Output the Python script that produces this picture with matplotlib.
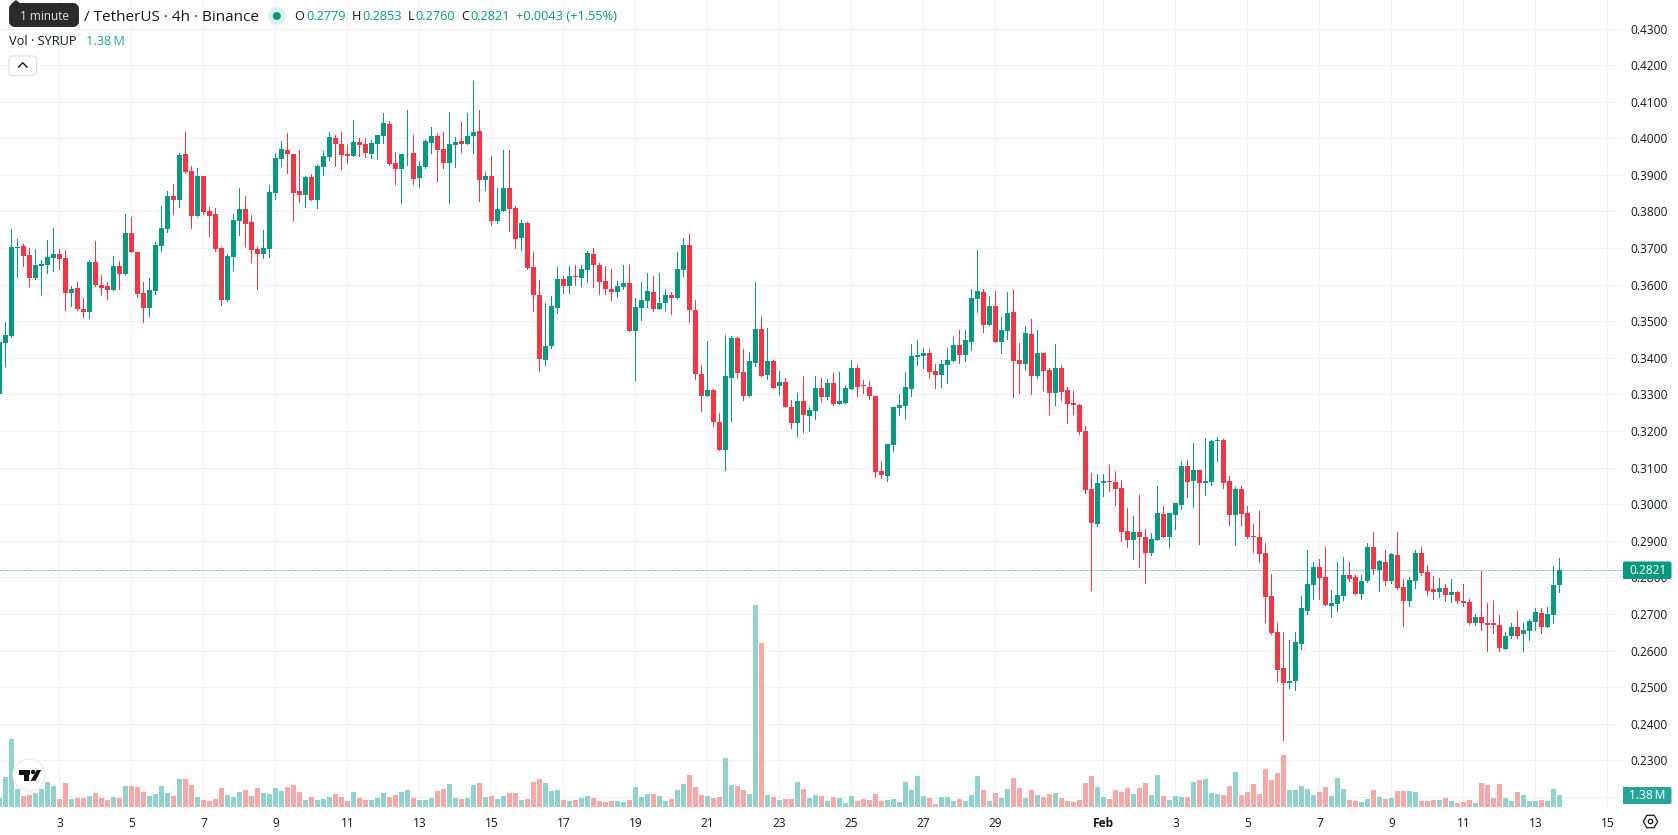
#!/usr/bin/env python3
"""
Draw a 4h candlestick chart of SYRUP/USDT with volume bars and a terminal style header.
"""

import matplotlib

matplotlib.use("Agg")
import matplotlib.pyplot as plt
import numpy as np
from matplotlib.patches import Circle, FancyBboxPatch, Polygon, Rectangle, RegularPolygon

plt.rcParams["font.family"] = ["Open Sans", "DejaVu Sans"]

GREEN = "#089981"
RED = "#F23645"
GREEN_VOL = "#92D2CC"
RED_VOL = "#F7A9A7"
GRID = "#F0F1F4"
INK = "#131722"
VOL_TEAL = "#26A69A"

# candles run from index -10; index 0 is the bar at midnight on the 3rd
first_index = -10

opens = [
    .3301, .3441, .3460, .3701, .3706, .3682, .3619, .3651, .3654, .3674,
    .3685, .3674, .3576, .3590, .3533, .3525, .3662, .3599, .3595, .3584, .3652, .3630,
    .3742, .3690, .3578, .3537, .3583, .3706, .3752, .3842, .3830, .3958, .3910, .3787,
    .3896, .3800, .3792, .3700, .3558, .3675, .3773, .3806, .3771, .3698, .3685, .3698,
    .3851, .3943, .3968, .3958, .3855, .3844, .3894, .3830, .3922, .3949, .4000, .3984,
    .3957, .3952, .3990, .3984, .3957, .3984, .4006, .4039, .3933, .3915, .3959, .3961,
    .3891, .3922, .3987, .4006, .3971, .3933, .3982, .3993, .3984, .4006, .4020, .3886,
    .3896, .3773, .3801, .3865, .3809, .3727, .3768, .3648, .3573, .3395, .3431, .3537,
    .3616, .3596, .3624, .3619, .3641, .3685, .3655, .3610, .3588, .3579, .3593, .3604,
    .3474, .3536, .3555, .3580, .3534, .3549, .3573, .3564, .3641, .3709, .3532, .3357,
    .3295, .3312, .3225, .3149, .3345, .3455, .3362, .3295, .3385, .3479, .3352, .3390,
    .3322, .3333, .3266, .3223, .3282, .3241, .3255, .3317, .3293, .3331, .3274, .3276,
    .3315, .3371, .3326, .3320, .3295, .3090, .3076, .3161, .3262, .3268, .3315, .3401,
    .3406, .3412, .3365, .3354, .3379, .3390, .3434, .3409, .3444, .3560, .3579, .3490,
    .3541, .3444, .3474, .3525, .3393, .3382, .3466, .3349, .3412, .3368, .3304, .3373,
    .3312, .3276, .3271, .3201, .3042, .2946, .3059, .3064, .3061, .3044, .2928, .2901,
    .2924, .2909, .2866, .2901, .2973, .2909, .2971, .2998, .3104, .3063, .3093, .3058,
    .3060, .3172, .3175, .3063, .2971, .3042, .2976, .2914, .2911, .2866, .2750, .2652,
    .2551, .2510, .2516, .2617, .2709, .2779, .2828, .2801, .2722, .2727, .2750, .2806,
    .2801, .2755, .2789, .2883, .2820, .2842, .2790, .2861, .2774, .2736, .2790, .2867,
    .2815, .2767, .2759, .2772, .2751, .2761, .2736, .2733, .2674, .2693, .2676, .2674,
    .2671, .2603, .2641, .2665, .2644, .2654, .2679, .2703, .2665, .2698, .2779,
]
closes = [
    .3443, .3463, .3704, .3704, .3679, .3619, .3654, .3657, .3676, .3685,
    .3671, .3578, .3587, .3533, .3525, .3662, .3598, .3591, .3584, .3652, .3630, .3742,
    .3690, .3575, .3537, .3586, .3709, .3755, .3842, .3831, .3955, .3907, .3787, .3896,
    .3798, .3787, .3698, .3558, .3677, .3776, .3806, .3765, .3695, .3685, .3700, .3853,
    .3947, .3971, .3957, .3851, .3844, .3894, .3831, .3924, .3952, .4003, .3984, .3954,
    .3951, .3990, .3982, .3959, .3987, .4009, .4042, .3930, .3917, .3958, .3961, .3890,
    .3924, .3993, .4006, .3968, .3933, .3984, .3990, .3984, .4006, .4017, .3886, .3896,
    .3773, .3806, .3865, .3806, .3724, .3768, .3645, .3571, .3398, .3433, .3541, .3616,
    .3596, .3624, .3621, .3644, .3687, .3655, .3608, .3588, .3579, .3596, .3604, .3474,
    .3539, .3558, .3582, .3534, .3549, .3573, .3564, .3644, .3709, .3530, .3355, .3295,
    .3312, .3225, .3149, .3350, .3455, .3359, .3295, .3390, .3479, .3349, .3390, .3318,
    .3335, .3266, .3223, .3282, .3245, .3257, .3318, .3293, .3331, .3274, .3282, .3317,
    .3371, .3320, .3323, .3295, .3087, .3079, .3164, .3265, .3271, .3320, .3404, .3409,
    .3412, .3362, .3354, .3382, .3395, .3434, .3409, .3448, .3563, .3582, .3490, .3541,
    .3444, .3476, .3523, .3390, .3382, .3469, .3349, .3412, .3363, .3304, .3373, .3307,
    .3274, .3271, .3198, .3039, .2949, .3059, .3064, .3061, .3042, .2925, .2901, .2924,
    .2909, .2866, .2904, .2975, .2909, .2975, .3004, .3104, .3060, .3093, .3058, .3063,
    .3172, .3175, .3058, .2971, .3042, .2973, .2911, .2909, .2865, .2747, .2649, .2548,
    .2510, .2518, .2623, .2715, .2782, .2828, .2798, .2725, .2730, .2752, .2806, .2795,
    .2755, .2790, .2883, .2823, .2845, .2790, .2864, .2772, .2736, .2793, .2867, .2812,
    .2763, .2759, .2772, .2751, .2761, .2734, .2731, .2676, .2693, .2674, .2671, .2671,
    .2606, .2641, .2665, .2641, .2655, .2682, .2706, .2665, .2701, .2780, .2821,
]
highs = [
    .3443, .3498, .3753, .3725, .3712, .3701, .3698, .3668, .3723, .3755,
    .3698, .3695, .3596, .3607, .3563, .3668, .3720, .3625, .3607, .3679, .3665, .3794,
    .3786, .3690, .3608, .3619, .3717, .3815, .3856, .3875, .3961, .4016, .3923, .3918,
    .3898, .3811, .3809, .3703, .3683, .3793, .3863, .3841, .3790, .3703, .3750, .3871,
    .3960, .3993, .4015, .3958, .3967, .3897, .3903, .3927, .3965, .4017, .4008, .4017,
    .3981, .4050, .4001, .4001, .3995, .4009, .4069, .4047, .3962, .3958, .4076, .4009,
    .3938, .3995, .4031, .4015, .4017, .4072, .4004, .4045, .4069, .4156, .4078, .3908,
    .3951, .3865, .3968, .3968, .3815, .3776, .3772, .3690, .3612, .3550, .3569, .3649,
    .3624, .3652, .3655, .3655, .3693, .3701, .3660, .3652, .3644, .3610, .3655, .3653,
    .3564, .3607, .3632, .3624, .3632, .3589, .3580, .3690, .3728, .3739, .3559, .3379,
    .3445, .3314, .3250, .3463, .3460, .3457, .3423, .3415, .3607, .3512, .3481, .3393,
    .3365, .3344, .3284, .3303, .3349, .3266, .3349, .3345, .3342, .3359, .3362, .3322,
    .3393, .3379, .3340, .3337, .3295, .3117, .3164, .3265, .3301, .3362, .3439, .3450,
    .3428, .3423, .3384, .3393, .3426, .3458, .3475, .3475, .3587, .3695, .3587, .3568,
    .3582, .3511, .3579, .3585, .3441, .3487, .3506, .3476, .3414, .3373, .3439, .3379,
    .3320, .3309, .3274, .3214, .3085, .3082, .3082, .3106, .3090, .3066, .2990, .2968,
    .3025, .2933, .2920, .3049, .2995, .2977, .3004, .3117, .3120, .3166, .3093, .3180,
    .3175, .3183, .3178, .3076, .3047, .3050, .2995, .2947, .2980, .2893, .2809, .2674,
    .2650, .2628, .2650, .2750, .2874, .2842, .2851, .2883, .2765, .2842, .2856, .2842,
    .2806, .2807, .2894, .2924, .2847, .2875, .2867, .2924, .2796, .2801, .2875, .2883,
    .2835, .2805, .2799, .2782, .2796, .2764, .2782, .2741, .2700, .2817, .2731, .2734,
    .2698, .2652, .2676, .2709, .2674, .2687, .2717, .2717, .2720, .2830, .2853,
]
lows = [
    .3300, .3378, .3457, .3622, .3652, .3597, .3616, .3575, .3632, .3638,
    .3644, .3532, .3541, .3530, .3511, .3509, .3596, .3575, .3560, .3584, .3588, .3625,
    .3690, .3567, .3499, .3515, .3575, .3693, .3744, .3793, .3811, .3904, .3755, .3787,
    .3793, .3732, .3693, .3544, .3555, .3640, .3735, .3705, .3663, .3589, .3674, .3676,
    .3835, .3924, .3905, .3776, .3825, .3812, .3831, .3809, .3900, .3941, .3924, .3916,
    .3932, .3952, .3952, .3948, .3946, .3943, .3987, .3927, .3876, .3822, .3926, .3874,
    .3866, .3919, .3960, .3883, .3919, .3822, .3922, .3962, .3984, .3960, .3829, .3858,
    .3762, .3768, .3801, .3746, .3700, .3695, .3642, .3528, .3365, .3380, .3428, .3523,
    .3576, .3576, .3598, .3595, .3608, .3594, .3574, .3574, .3557, .3566, .3587, .3474,
    .3338, .3504, .3539, .3528, .3534, .3532, .3520, .3561, .3624, .3498, .3341, .3255,
    .3295, .3215, .3149, .3093, .3228, .3345, .3285, .3295, .3377, .3349, .3341, .3318,
    .3297, .3266, .3207, .3185, .3198, .3201, .3233, .3279, .3287, .3271, .3274, .3276,
    .3315, .3295, .3304, .3287, .3074, .3071, .3063, .3145, .3243, .3235, .3295, .3379,
    .3373, .3346, .3318, .3321, .3332, .3390, .3387, .3390, .3422, .3525, .3471, .3490,
    .3444, .3412, .3452, .3292, .3304, .3368, .3301, .3346, .3312, .3246, .3270, .3284,
    .3223, .3246, .3193, .3031, .2765, .2941, .3023, .3036, .2998, .2898, .2882, .2851,
    .2829, .2785, .2861, .2901, .2909, .2882, .2931, .2987, .3019, .2993, .2892, .3025,
    .3052, .3117, .3044, .2943, .2889, .2943, .2908, .2870, .2843, .2679, .2644, .2518,
    .2355, .2498, .2491, .2604, .2701, .2741, .2741, .2725, .2692, .2709, .2739, .2790,
    .2755, .2741, .2786, .2809, .2763, .2779, .2785, .2769, .2668, .2722, .2771, .2806,
    .2752, .2740, .2745, .2735, .2732, .2729, .2723, .2673, .2671, .2657, .2600, .2649,
    .2600, .2603, .2633, .2633, .2600, .2630, .2657, .2649, .2665, .2674, .2760,
]
# volume in millions of SYRUP
volumes = [
    1.03, 3.45, 7.82, 2.11, 1.27, 1.38, 1.61, 2.07, 2.88, 2.42,
    .92, 2.76, .92, 1.03, 1.03, 1.27, 1.61, 1.03, .81, 1.15, 1.03, 2.42,
    2.42, 2.30, 1.73, 1.27, 1.50, 2.42, 1.61, 1.27, 3.22, 3.22, 2.53, 1.15,
    .81, .69, .92, 2.19, 1.38, 1.15, 1.73, 1.96, 1.27, 2.19, 1.61, 1.50,
    2.19, 1.84, 2.30, 2.53, 1.73, .81, 1.15, .81, .92, 1.15, 1.50, 1.15,
    .69, 1.73, 1.03, .81, .81, 1.03, 1.61, 1.15, 1.38, 1.73, 1.96, 1.03,
    .81, .81, 1.03, 1.84, 2.07, 2.65, 1.03, .92, 1.03, 2.53, 2.76, 1.15,
    1.27, .92, 1.27, 1.61, 1.61, .81, .92, 2.88, 3.22, 2.76, 1.84, 1.96,
    .81, .69, .81, 1.03, 1.27, 1.03, .69, .58, .69, .69, .58, .81,
    2.30, 1.15, 1.50, 1.50, 1.27, .69, .92, 1.96, 2.65, 3.68, 2.30, 1.38,
    1.27, 1.03, 1.15, 5.63, 2.53, 2.42, 1.96, 1.50, 23.23, 18.86, 1.38, 1.15,
    .81, .92, .92, 2.88, 2.07, 1.03, 1.38, 1.27, .69, 1.15, 1.03, .46,
    1.27, .69, .92, .81, 1.50, .69, .81, .92, .58, 2.88, 1.96, 3.56,
    1.27, 1.03, .35, 1.15, 1.15, .69, .92, .69, 1.38, 3.56, 1.96, .69,
    1.61, 1.03, 2.07, 3.33, 2.19, 1.03, 1.96, 1.38, 1.15, 1.50, 1.61, 1.03,
    .69, .58, .81, 2.76, 3.56, 2.30, 1.15, .92, 1.96, 1.73, 2.19, 1.50,
    2.19, 2.76, 1.38, 3.68, 1.27, .81, 1.27, 1.15, 1.15, 2.88, 3.10, 3.22,
    1.61, 1.50, 1.38, 2.42, 4.02, 1.38, 1.73, 2.65, 1.50, 4.37, 3.10, 3.91,
    5.98, 1.96, 1.96, 2.42, 2.07, 1.38, 1.73, 2.30, 1.27, 3.33, 2.07, .81,
    .69, .58, .92, 1.96, 1.15, .92, 1.03, 1.84, 1.84, 1.84, 1.73, .69,
    .69, .81, .81, 1.03, .69, .46, .58, .81, .46, 2.76, 2.53, 1.03,
    2.65, 1.03, .69, 1.73, 1.38, .69, .69, .81, .69, 2.07, 1.38,
]

price_ticks = [.43, .42, .41, .40, .39, .38, .37, .36, .35, .34,
               .33, .32, .31, .30, .29, .28, .27, .26, .25, .24, .23, .22]
price_tick_labels = ["0.4300", "0.4200", "0.4100", "0.4000", "0.3900", "0.3800", "0.3700", "0.3600",
                     "0.3500", "0.3400", "0.3300", "0.3200", "0.3100", "0.3000", "0.2900", "0.2800",
                     "0.2700", "0.2600", "0.2500", "0.2400", "0.2300", ""]
date_ticks = [0, 12, 24, 36, 48, 60, 72, 84, 96, 108, 120, 132, 144, 156, 174, 186, 198, 210, 222, 234, 246, 258]
date_labels = ["3", "5", "7", "9", "11", "13", "15", "17", "19", "21", "23", "25", "27", "29",
               "Feb", "3", "5", "7", "9", "11", "13", "15"]

last_price = closes[-1]
last_volume_label = "1.38\u2009M"


def draw_candles(ax, idx, o, h, l, c):
    up = c >= o
    colors = np.where(up, GREEN, RED)
    ax.vlines(idx, l, h, colors=colors, linewidth=0.72, antialiased=False, zorder=3)
    ax.bar(idx, np.abs(c - o), bottom=np.minimum(o, c), width=5 / 6, color=colors,
           linewidth=0, antialiased=False, zorder=4)


def draw_header(ui):
    # tooltip over the symbol name
    ui.text(83.5, 17.5, "/ TetherUS · 4h · Binance", fontsize=11.0, color=INK, va="center")
    ui.add_patch(FancyBboxPatch((12, 6), 64, 18, boxstyle="round,pad=0,rounding_size=3",
                                mutation_aspect=1, fc="#2A2A2A", ec="#2A2A2A", lw=4.3, zorder=5))
    ui.add_patch(Polygon([[11, 4], [16, 0], [21, 4]], fc="#2A2A2A", ec="none", zorder=5))
    ui.text(44, 16.5, "1 minute", fontsize=8.5, color="#E6E6E6", ha="center", va="center", zorder=6)

    ui.add_patch(Circle((276.8, 16), 9, fc="#DCF1EE", ec="none"))
    ui.add_patch(Circle((276.8, 16), 4, fc=GREEN, ec="none"))

    for x, s, col in [(294.5, "O", INK), (306, "0.2779", GREEN), (351.5, "H", INK), (362, "0.2853", GREEN),
                      (408, "L", INK), (415.5, "0.2760", GREEN), (461.5, "C", INK), (470.5, "0.2821", GREEN),
                      (516, "+0.0043 (+1.55%)", GREEN)]:
        ui.text(x, 17, s, fontsize=9.2, color=col, va="center")

    ui.text(9, 41.5, "Vol · SYRUP", fontsize=9.2, color=INK, va="center")
    ui.text(85.5, 41.5, last_volume_label, fontsize=9.2, color=VOL_TEAL, va="center")

    # collapse button
    ui.add_patch(FancyBboxPatch((9, 56), 27.5, 19.5, boxstyle="round,pad=0,rounding_size=3",
                                fc="white", ec="#E0E3EB", lw=0.9))
    ui.plot([18.5, 22.7, 27], [67, 62.8, 67], color=INK, lw=1.0)


def draw_axis_badges(ui):
    for y0, h, col, s in [(561.5, 17.5, GREEN, "0.2821"), (787, 17, VOL_TEAL, last_volume_label)]:
        ui.add_patch(FancyBboxPatch((1623, y0), 48.5, h, boxstyle="round,pad=0,rounding_size=2",
                                    fc=col, ec="none", zorder=5))
        ui.add_patch(Rectangle((1623, y0), 4, h, fc=col, ec="none", zorder=5))
        ui.text(1647.5, y0 + h / 2, s, fontsize=8.6, color="white", ha="center", va="center", zorder=6)

    # settings icon
    ui.add_patch(RegularPolygon((1650.5, 821.5), 6, radius=7.2, orientation=np.pi / 2,
                                fc="white", ec=INK, lw=0.9))
    ui.add_patch(Circle((1650.5, 821.5), 2.2, fc="white", ec=INK, lw=0.9))


def draw_logo(ui):
    ui.add_patch(Circle((29, 775), 16, fc="white", ec="#ECECEC", lw=1.0, zorder=5))
    ui.add_patch(Rectangle((18.6, 770), 11.5, 4.5, fc="#111111", ec="none", zorder=6))
    ui.add_patch(Rectangle((23.5, 770), 5.5, 10.8, fc="#111111", ec="none", zorder=6))
    ui.add_patch(Circle((33, 772), 2.2, fc="#111111", ec="none", zorder=6))
    ui.add_patch(Polygon([[36.8, 770], [41.2, 770], [35.5, 780.8], [30.6, 780.8]],
                         fc="#111111", ec="none", zorder=6))


def main():
    o = np.array(opens)
    h = np.array(highs)
    l = np.array(lows)
    c = np.array(closes)
    vol = np.array(volumes)
    idx = np.arange(len(o)) + first_index
    up = c >= o

    fig = plt.figure(figsize=(16.78, 8.35), dpi=100, facecolor="white")
    ax = fig.add_axes([0, 1 - 807 / 835, 1622 / 1678, 807 / 835])
    ax.set_xlim(-59.5 / 6, (1622 - 59.5) / 6)
    ax.set_ylim(0.23 - 46.7 / 3659, 0.23 + 760.3 / 3659)

    for s in ax.spines.values():
        s.set_visible(False)
    ax.grid(True, color=GRID, linewidth=0.72, zorder=0)
    ax.set_axisbelow(True)

    draw_candles(ax, idx, o, h, l, c)
    ax.axhline(last_price, color=GREEN, linewidth=0.72, linestyle=(0, (1, 2)), zorder=2)

    # volume pane shares the time axis, 0.115M per pixel
    vax = ax.twinx()
    vax.set_ylim(0, 807 * 0.115)
    vax.yaxis.set_visible(False)
    for s in vax.spines.values():
        s.set_visible(False)
    vax.patch.set_visible(False)
    vax.bar(idx, vol, width=5 / 6, color=np.where(up, GREEN_VOL, RED_VOL), linewidth=0, antialiased=False)

    # twinx moves the price axis to the left, so set the ticks up afterwards
    ax.yaxis.tick_right()
    ax.set_yticks(price_ticks, labels=price_tick_labels)
    ax.set_xticks(date_ticks, labels=date_labels)
    ax.tick_params(axis="y", length=0, pad=6, labelsize=8.6, labelcolor=INK)
    ax.tick_params(axis="x", length=0, pad=7.5, labelsize=8.6, labelcolor=INK)
    for lab in ax.get_xticklabels():
        if lab.get_text() == "Feb":
            lab.set_fontweight("bold")

    # overlay in pixel units for the header, badges and logo
    ui = fig.add_axes([0, 0, 1, 1], facecolor="none")
    ui.set_xlim(0, 1678)
    ui.set_ylim(835, 0)
    ui.axis("off")
    draw_header(ui)
    draw_axis_badges(ui)
    draw_logo(ui)

    fig.savefig("out.png", dpi=100)
    plt.close(fig)
    return 0


if __name__ == "__main__":
    raise SystemExit(main())
